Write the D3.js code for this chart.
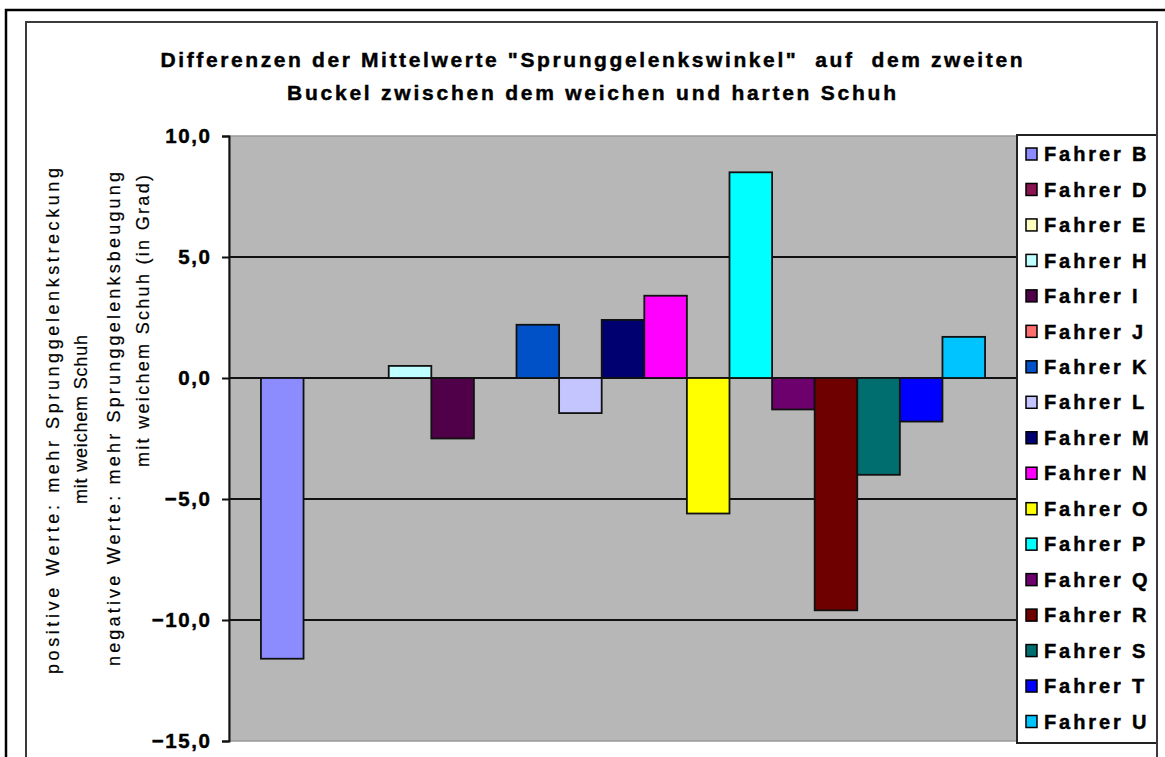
<!DOCTYPE html>
<html>
<head>
<meta charset="utf-8">
<script src="https://cdn.jsdelivr.net/npm/d3@7"></script>
<style>
  html, body { margin: 0; padding: 0; background: #ffffff; }
  svg { display: block; }
  text { font-family: "Liberation Sans", Arial, sans-serif; fill: #000; }
  .heavy { stroke: #000; stroke-width: 0.45px; }
</style>
</head>
<body>
<svg id="chart" width="1165" height="757"></svg>
<script>
// Riders (one series each), their mean-angle differences and bar colours
const riders = ["Fahrer B", "Fahrer D", "Fahrer E", "Fahrer H", "Fahrer I", "Fahrer J",
                "Fahrer K", "Fahrer L", "Fahrer M", "Fahrer N", "Fahrer O", "Fahrer P",
                "Fahrer Q", "Fahrer R", "Fahrer S", "Fahrer T", "Fahrer U"];
const differences = [-11.6, null, null, 0.5, -2.5, null, 2.2, -1.45, 2.4, 3.4, -5.6, 8.5,
                     -1.3, -9.6, -4.0, -1.8, 1.7];
const colors = ["#8c8cff", "#8a1450", "#ffffbf", "#bfffff", "#500048", "#ff6e6e",
                "#0050c8", "#c4c4ff", "#000070", "#ff00ff", "#ffff00", "#00ffff",
                "#6e006e", "#6e0000", "#006e6e", "#0000ff", "#00c4ff"];
const yTicks = [10, 5, 0, -5, -10, -15];
const titleLines = ["Differenzen der Mittelwerte \"Sprunggelenkswinkel\"  auf  dem zweiten",
                    "Buckel zwischen dem weichen und harten Schuh"];
const axisTitleLines = ["positive Werte: mehr Sprunggelenkstreckung",
                        "mit weichem Schuh",
                        "negative Werte: mehr Sprunggelenksbeugung",
                        "mit weichem Schuh (in Grad)"];

const svg = d3.select("#chart");
const plot = { left: 229, right: 1017, top: 136, bottom: 741 };

const x = d3.scaleBand().domain(riders)
  .range([plot.left, plot.right]).paddingInner(0).paddingOuter(0.75);
const y = d3.scaleLinear().domain([-15, 10]).range([plot.bottom, plot.top]);
const color = d3.scaleOrdinal().domain(riders).range(colors);
const deFormat = d3.formatLocale({ decimal: ",", thousands: ".", grouping: [3], currency: ["", " €"] }).format(".1f");

// outer frame and chart-area border
svg.append("rect").attr("x", 6).attr("y", 10).attr("width", 1200).attr("height", 800)
  .attr("fill", "none").attr("stroke", "#000").attr("stroke-width", 2.5);
svg.append("rect").attr("x", 26).attr("y", 22).attr("width", 1131).attr("height", 800)
  .attr("fill", "#fff").attr("stroke", "#3a3a3a").attr("stroke-width", 2);

// title
const titleLayout = [{ cx: 591.5, y: 67, len: 862 }, { cx: 591.5, y: 100, len: 609 }];
svg.append("g").selectAll("text").data(titleLines).join("text")
  .attr("class", "heavy")
  .attr("x", (d, i) => titleLayout[i].cx)
  .attr("y", (d, i) => titleLayout[i].y)
  .attr("text-anchor", "middle")
  .attr("font-size", 21).attr("font-weight", "bold")
  .attr("textLength", (d, i) => titleLayout[i].len)
  .attr("lengthAdjust", "spacing")
  .attr("xml:space", "preserve")
  .text(d => d);

// plot background
svg.append("rect")
  .attr("x", plot.left).attr("y", plot.top)
  .attr("width", plot.right - plot.left).attr("height", plot.bottom - plot.top)
  .attr("fill", "#b7b7b7").attr("stroke", "#9a9a9a").attr("stroke-width", 1.5);

// horizontal gridlines
svg.append("g").selectAll("line")
  .data(yTicks.filter(t => t < 10 && t > -15)).join("line")
  .attr("x1", plot.left).attr("x2", plot.right)
  .attr("y1", d => y(d)).attr("y2", d => y(d))
  .attr("stroke", "#111").attr("stroke-width", 2);

// bars
svg.append("g").selectAll("rect")
  .data(riders.map((r, i) => ({ rider: r, value: differences[i] })).filter(d => d.value !== null))
  .join("rect")
  .attr("x", d => x(d.rider))
  .attr("width", x.bandwidth())
  .attr("y", d => y(Math.max(0, d.value)))
  .attr("height", d => Math.abs(y(d.value) - y(0)))
  .attr("fill", d => color(d.rider))
  .attr("stroke", "#111").attr("stroke-width", 1.8);

// y axis
const yAxis = d3.axisLeft(y).tickValues(yTicks).tickSize(7).tickPadding(12)
  .tickFormat(d => deFormat(d));
const gy = svg.append("g").attr("transform", `translate(${plot.left},0)`).call(yAxis);
gy.select(".domain").attr("stroke", "#111").attr("stroke-width", 2);
gy.selectAll(".tick line").attr("stroke", "#111").attr("stroke-width", 2);
gy.selectAll(".tick text")
  .attr("class", "heavy")
  .attr("font-family", "'Liberation Sans', Arial, sans-serif")
  .attr("font-size", 20.5).attr("font-weight", "bold")
  .attr("letter-spacing", 1.6).attr("fill", "#000")
  .attr("dx", 1.5);

// rotated value-axis title (four lines)
const axisLayout = [
  { x: 53, y: 421, len: 506 },
  { x: 81, y: 419.5, len: 169 },
  { x: 114, y: 419, len: 494 },
  { x: 143, y: 321, len: 292 }
];
svg.append("g").selectAll("text").data(axisTitleLines).join("text")
  .attr("transform", (d, i) => `translate(${axisLayout[i].x},${axisLayout[i].y}) rotate(-90)`)
  .attr("text-anchor", "middle")
  .attr("dy", "0.35em")
  .attr("font-size", 18)
  .attr("stroke", "#000").attr("stroke-width", 0.2)
  .attr("textLength", (d, i) => axisLayout[i].len)
  .attr("lengthAdjust", "spacing")
  .text(d => d);

// legend
const legend = { left: 1017, right: 1157, top: 135, bottom: 743 };
svg.append("rect")
  .attr("x", legend.left).attr("y", legend.top)
  .attr("width", legend.right - legend.left).attr("height", legend.bottom - legend.top)
  .attr("fill", "#fff").attr("stroke", "#222").attr("stroke-width", 2);
const ly = d3.scalePoint().domain(riders).range([154, 721.5]);
const items = svg.append("g").selectAll("g").data(riders).join("g")
  .attr("transform", d => `translate(${legend.left},${ly(d)})`);
items.append("rect")
  .attr("x", 9).attr("y", -6).attr("width", 11).attr("height", 12)
  .attr("fill", d => color(d)).attr("stroke", "#000").attr("stroke-width", 1.5);
items.append("text")
  .attr("class", "heavy")
  .attr("x", 27).attr("dy", "0.36em")
  .attr("font-size", 20).attr("font-weight", "bold")
  .attr("letter-spacing", 2.9)
  .text(d => d);

// chart-area right border drawn over the legend edge
svg.append("line").attr("x1", 1157).attr("x2", 1157).attr("y1", 22).attr("y2", 757)
  .attr("stroke", "#3a3a3a").attr("stroke-width", 2);
</script>
</body>
</html>
